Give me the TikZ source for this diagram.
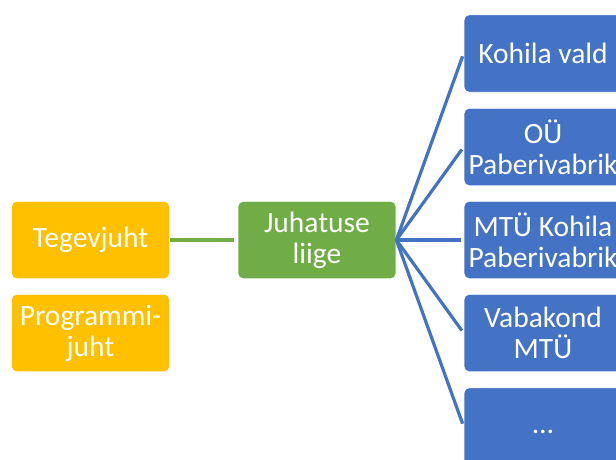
\documentclass[tikz,border=0pt]{standalone}
\usepackage{fontspec}
\setmainfont{Carlito}
\definecolor{orgorange}{HTML}{FFC000}
\definecolor{orggreen}{HTML}{70AD47}
\definecolor{orgblue}{HTML}{4472C4}
\begin{document}
\begin{tikzpicture}[x=1pt,y=-1pt,
  box/.style={draw=white, line width=0.8pt, rounded corners=5pt, minimum width=158pt, minimum height=77.5pt,
    inner sep=0pt, text=white, align=center, font=\fontsize{29.5}{31}\selectfont},
  orgbox/.style={box, fill=orgorange},
  greenbox/.style={box, fill=orggreen},
  bluebox/.style={box, fill=orgblue},
  link/.style={line width=3.2pt},
]
\useasboundingbox (0,0) rectangle (616,459);
\clip (0,0) rectangle (616,459);
\fill[white] (0,0) rectangle (616,459);
\node[orgbox] (tj) at (90.5,240) {Tegevjuht};
\node[orgbox] (pj) at (90.5,333) {Programmi-\\juht};
\node[greenbox] (jl) at (317,240) {Juhatuse\\liige};
\node[bluebox] (b1) at (543,53.5) {Kohila vald};
\node[bluebox] (b2) at (543,147) {OÜ\\Paberivabrik};
\node[bluebox] (b3) at (543,240) {MTÜ Kohila\\Paberivabrik};
\node[bluebox] (b4) at (543,333) {Vabakond\\MTÜ};
\node[bluebox] (b5) at (543,426.5) {\vphantom{Ag}…};
\draw[link, orggreen, shorten >=4pt] (tj.east) -- (jl.west);
\foreach \b in {b1,b2,b3,b4,b5}
  \draw[link, orgblue, shorten >=3pt] (jl.east) -- (\b.west);
\end{tikzpicture}
\end{document}
